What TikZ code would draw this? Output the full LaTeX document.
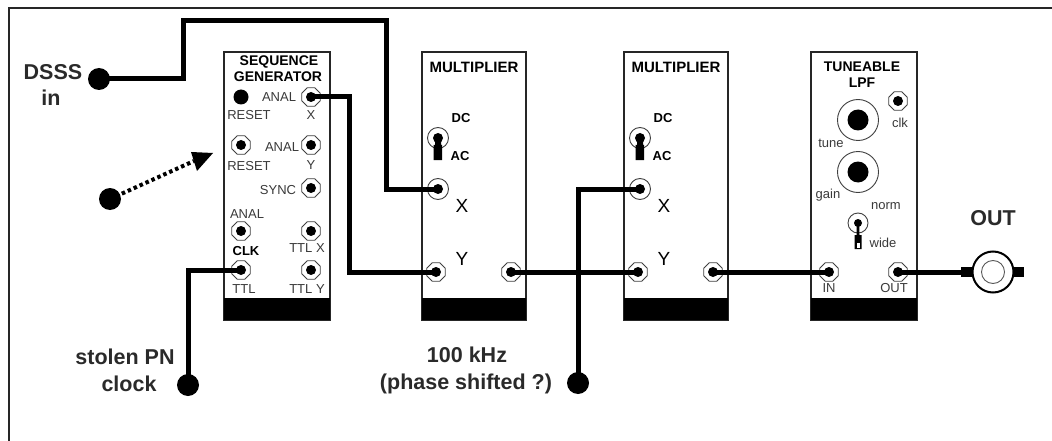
\documentclass[tikz,border=0pt]{standalone}
\usepackage{fontspec}
\usetikzlibrary{shapes.geometric}
\setmainfont{Liberation Sans}
\definecolor{lab}{HTML}{2A2A2A}
\definecolor{thin}{HTML}{3A3A3A}
\tikzset{
  x=1pt,y=-1pt,
  frameline/.style={line width=2.2,draw=black!85},
  module/.style={draw=black!85,line width=2,fill=white},
  foot/.style={fill=black},
  wire/.style={line width=5,line cap=butt,line join=miter,draw=black},
  terminal/.style={circle,fill=black,minimum size=22,inner sep=0},
  socket/.style={regular polygon,regular polygon sides=8,draw=black!75,fill=white,line width=.9,minimum size=20,inner sep=0,
     path picture={\fill[black] (path picture bounding box.center) circle (5);}},
  big/.style={font=\fontsize{21.5}{24}\selectfont\bfseries,text=lab,inner sep=0},
  title/.style={font=\fontsize{14}{16}\selectfont\bfseries,text=black,inner sep=0},
  small/.style={font=\fontsize{13}{14}\selectfont,text=thin,inner sep=0},
  smallb/.style={font=\fontsize{13}{14}\selectfont\bfseries,text=black,inner sep=0},
  axis/.style={font=\fontsize{19}{20}\selectfont,text=black,inner sep=0},
  knob/.style={circle,draw=black!75,fill=white,line width=.9,minimum size=41,inner sep=0,
     path picture={\fill[black] (path picture bounding box.center) circle (10.5);}},
  lever/.pic={
    \draw[black!75,line width=.9,fill=white] (0,0) circle (10.5);
    \fill[black] (0,0) circle (5);
    \fill[black] (-3,0) -- (3,0) -- (3,7) -- (4,7) -- (4,22) -- (-4.5,22) -- (-4.5,7) -- (-3,7) -- cycle;
  },
  slimlever/.pic={
    \draw[black!75,line width=.9,fill=white] (0,0) circle (10);
    \fill[black] (0,0) circle (4);
    \fill[black] (-1.2,0) -- (1.2,0) -- (1.5,12) -- (3.5,12) -- (3.5,26) -- (-3.5,26) -- (-3.5,12) -- (-1.5,12) -- cycle;
    \fill[white] (-1.5,20) rectangle (1.5,24.5);
  },
}
\begin{document}
\begin{tikzpicture}
\useasboundingbox (0,0) rectangle (1052,441);
% frame
\draw[frameline] (9,441) -- (9,8) -- (1052,8);
% modules
\draw[module] (224,52) rectangle (330,320);
\fill[foot] (224,298) rectangle (330,320);
\draw[module] (422,52) rectangle (526,320);
\fill[foot] (422,298) rectangle (526,320);
\draw[module] (624,52) rectangle (728,320);
\fill[foot] (624,298) rectangle (728,320);
\draw[module] (811,52) rectangle (917,320);
\fill[foot] (811,298) rectangle (917,320);
% sequence generator
\node[title] (sgt1) at (279,62) {SEQUENCE};
\node[title] (sgt2) at (278,77) {GENERATOR};
\node[circle,fill=black,minimum size=15,inner sep=0] (rstb) at (241,97) {};
\node[small] (l1) at (279,97) {ANAL};
\node[small] (l2) at (249,115) {RESET};
\node[small] (l3) at (311,115) {X};
\node[socket] (sgx) at (311,97) {};
\node[socket] (rst2) at (241,145) {};
\node[small] (l4) at (282,147) {ANAL};
\node[socket] (sgy) at (311,145) {};
\node[small] (l5) at (249,166) {RESET};
\node[small] (l6) at (311,165) {Y};
\node[small] (l7) at (278,190) {SYNC};
\node[socket] (sync) at (311,188) {};
\node[small] (l8) at (247,214) {ANAL};
\node[socket] (anal) at (241,231) {};
\node[socket] (ttlx) at (311,231) {};
\node[smallb] (l9) at (246,251) {CLK};
\node[small] (l10) at (307,248) {TTL X};
\node[socket] (ttl) at (241,270) {};
\node[socket] (ttly) at (311,270) {};
\node[small] (l11) at (244,289) {TTL};
\node[small] (l12) at (307,289) {TTL Y};
% multiplier 1
\node[title,font=\fontsize{15}{16}\selectfont\bfseries] (m1t) at (474,67) {MULTIPLIER};
\node[smallb] (m1dc) at (461,118) {DC};
\node[smallb] (m1ac) at (460,156) {AC};
\pic at (438,138) {lever};
\node[circle,draw=black!75,fill=white,line width=.9,minimum size=21,inner sep=0,
  path picture={\fill[black] (path picture bounding box.center) circle (5);}] (m1x) at (438,189) {};
\node[axis] (m1xl) at (462,206) {X};
\node[axis] (m1yl) at (462,259) {Y};
\node[socket] (m1y) at (436,272) {};
\node[socket] (m1o) at (511,272) {};
% multiplier 2
\node[title,font=\fontsize{15}{16}\selectfont\bfseries] (m2t) at (676,67) {MULTIPLIER};
\node[smallb] (m2dc) at (663,118) {DC};
\node[smallb] (m2ac) at (662,156) {AC};
\pic at (640,138) {lever};
\node[circle,draw=black!75,fill=white,line width=.9,minimum size=21,inner sep=0,
  path picture={\fill[black] (path picture bounding box.center) circle (5);}] (m2x) at (640,189) {};
\node[axis] (m2xl) at (664,206) {X};
\node[axis] (m2yl) at (664,259) {Y};
\node[socket] (m2y) at (638,272) {};
\node[socket] (m2o) at (713,272) {};
% tuneable LPF
\node[title] (t1) at (862,67) {TUNEABLE};
\node[title] (t2) at (862,83) {LPF};
\node[knob] (tune) at (858,120) {};
\node[knob] (gain) at (858,172) {};
\node[socket] (clk) at (898,101) {};
\node[small] (t3) at (900,123) {clk};
\node[small] (t4) at (831,143) {tune};
\node[small] (t5) at (828,195) {gain};
\node[small] (t6) at (886,206) {norm};
\pic at (858,223) {slimlever};
\node[small] (t7) at (883,243) {wide};
\node[socket] (in) at (829,272) {};
\node[socket] (out) at (898,272) {};
\node[small] (t8) at (829,288) {IN};
\node[small] (t9) at (894,288) {OUT};
% terminals
\node[terminal] (dsss) at (99,79) {};
\node[terminal] (free) at (110,199) {};
\node[terminal] (pn) at (188,385) {};
\node[terminal] (khz) at (578,383) {};
\node[big] (a1) at (53,72) {DSSS};
\node[big] (a2) at (51,98) {in};
\node[big] (a3) at (125,357) {stolen PN};
\node[big] (a4) at (129,384) {clock};
\node[big] (a5) at (467,355) {100 kHz};
\node[big] (a6) at (466,384) {(phase shifted ?)};
\node[big] (a7) at (993,218) {OUT};
% BNC output
\node[circle,draw=black,line width=2,fill=white,minimum size=41,inner sep=0] (bnc) at (993,272) {};
\node[circle,draw=black!65,line width=.9,minimum size=23,inner sep=0] (bnci) at (993,272) {};
\fill[black] (961,267) rectangle (973,277);
\fill[black] (1013,267) rectangle (1024,277);
% wires
\draw[wire] (dsss.center) -- (183,79) -- (183,21) -- (386,21) -- (386,189) -- (m1x.center);
\draw[wire] (sgx.center) -- (349,97) -- (349,272) -- (m1y.center);
\draw[wire] (m1o.center) -- (m2y.center);
\draw[wire] (khz.center) -- (578,189) -- (m2x.center);
\draw[wire] (pn.center) -- (188,270) -- (ttl.center);
\draw[wire] (m2o.center) -- (in.center);
\draw[wire] (out.center) -- (965,272);
% dotted arrow
\coordinate (arrtip) at (213,153);
\draw[line width=4,black,dash pattern=on 3.5pt off 3pt] (free.center) -- (194,161);
\fill[black] (arrtip) -- (191,152) -- (197,171) -- cycle;
\end{tikzpicture}
\end{document}
